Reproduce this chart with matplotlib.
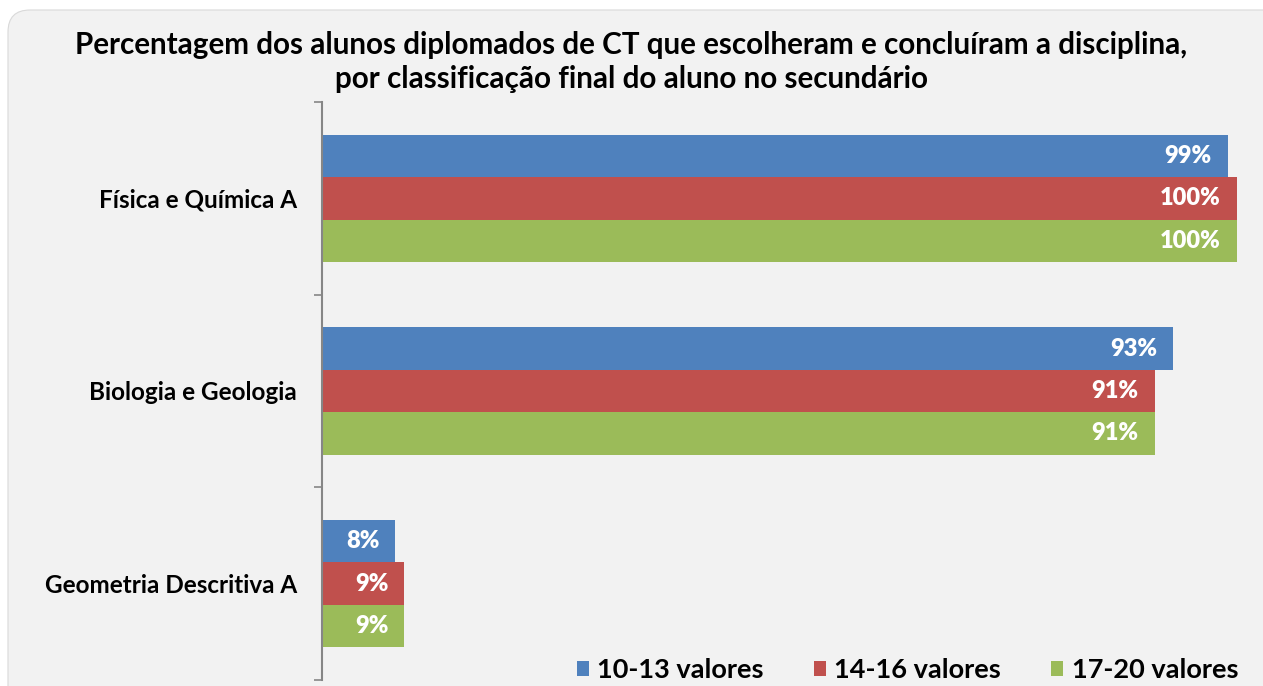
import matplotlib
matplotlib.use('Agg')
import matplotlib.pyplot as plt
from matplotlib.patches import FancyBboxPatch, Patch
from matplotlib.transforms import IdentityTransform

# data
disciplinas = ['Física e Química A', 'Biologia e Geologia', 'Geometria Descritiva A']
series = ['10-13 valores', '14-16 valores', '17-20 valores']
v_10_13 = [99, 93, 8]
v_14_16 = [100, 91, 9]
v_17_20 = [100, 91, 9]
cores = ['#4f81bd', '#c0504d', '#9bbb59']

plt.rcParams['font.family'] = ['Lato', 'DejaVu Sans']

W, H = 1263, 686
fig = plt.figure(figsize=(W / 100, H / 100), dpi=100)
fig.patch.set_facecolor('white')

# rounded light grey panel
painel = FancyBboxPatch((8, -40), 1300, H - 10 + 40, boxstyle='round,pad=0,rounding_size=22',
                        transform=IdentityTransform(), facecolor='#f2f2f2', edgecolor='#d9d9d9',
                        linewidth=0.8, zorder=-10)
fig.patches.append(painel)

ax = fig.add_axes([322 / W, 6 / H, (1237 - 322) / W, (680 - 102) / H])
ax.set_facecolor('none')

h = 0.22
centros = [i + 0.5 for i in range(len(disciplinas))]
for k, (vals, cor) in enumerate(zip([v_10_13, v_14_16, v_17_20], cores)):
    ys = [c + (k - 1) * h for c in centros]
    bars = ax.barh(ys, vals, height=h, color=cor, edgecolor='none', label=series[k])
    for b, v in zip(bars, vals):
        ax.annotate(f'{v}%', (b.get_width(), b.get_y() + b.get_height() / 2),
                    xytext=(-16, 0), textcoords='offset pixels', ha='right', va='center',
                    color='white', fontsize=17, fontweight='heavy')

ax.set_xlim(0, 100)
ax.set_ylim(3, 0)
ax.set_xticks([])
ax.set_yticks([0, 1, 2, 3])
ax.set_yticklabels([])
ax.tick_params(axis='y', which='major', length=6, width=1.2, color='#868686', direction='out')
ax.set_yticks(centros, minor=True)
ax.set_yticklabels(disciplinas, minor=True, fontsize=17.5, fontweight='bold')
ax.tick_params(axis='y', which='minor', length=0, pad=18)
for s in ['top', 'right', 'bottom']:
    ax.spines[s].set_visible(False)
ax.spines['left'].set_color('#868686')
ax.spines['left'].set_linewidth(1.5)

fig.text(0.5, 1 - 62 / H, 'Percentagem dos alunos diplomados de CT que escolheram e concluíram a disciplina,\n'
         'por classificação final do aluno no secundário',
         ha='center', va='center', fontsize=21.3, fontweight='bold', linespacing=1.25)

handles = [Patch(facecolor=c, edgecolor='none') for c in cores]
fig.legend(handles, series, loc='center right', bbox_to_anchor=(1238 / W, 1 - 670 / H),
           ncol=3, frameon=False, prop={'weight': 'bold', 'size': 19.5},
           borderaxespad=0, borderpad=0,
           handlelength=0.45, handleheight=0.45, handletextpad=0.3, columnspacing=1.85)

fig.savefig('out.png', dpi=100, facecolor=fig.get_facecolor())
